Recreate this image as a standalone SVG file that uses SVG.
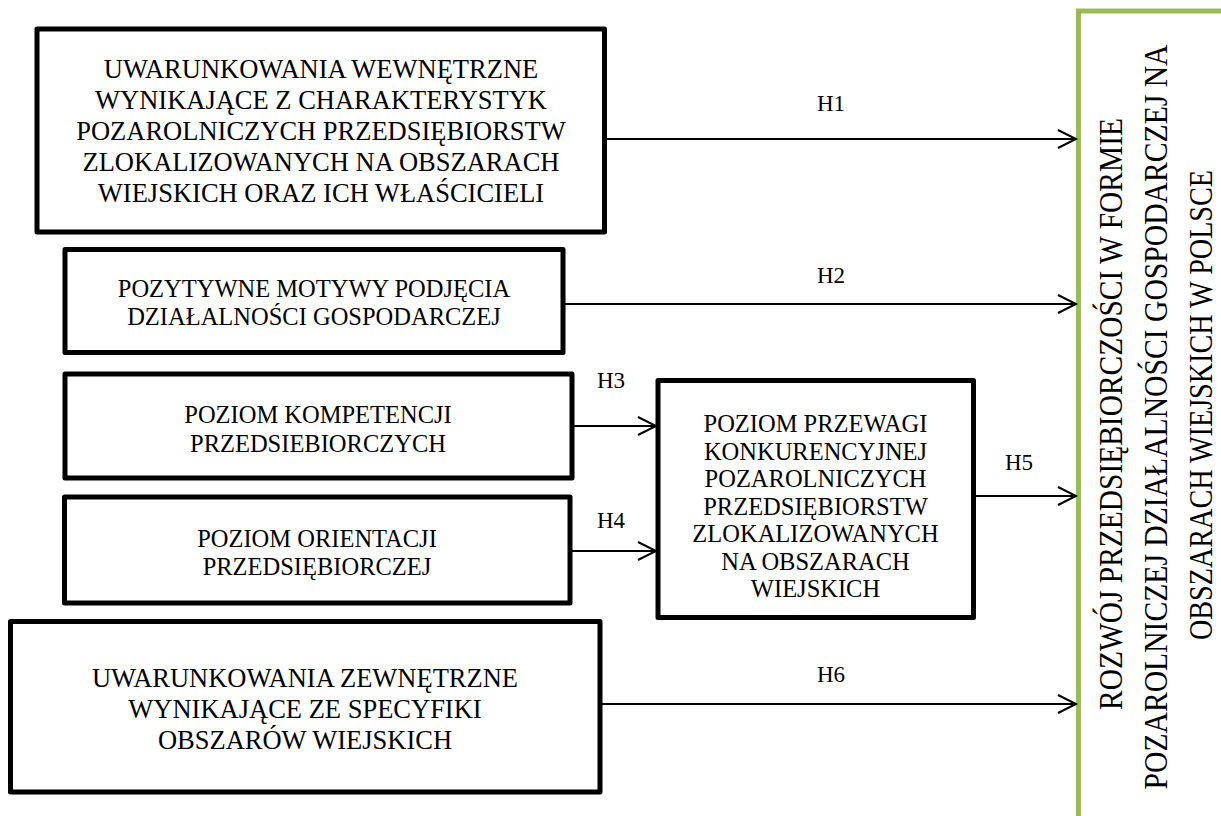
<svg xmlns="http://www.w3.org/2000/svg" width="1221" height="816" viewBox="0 0 1221 816">
<style>
.box{fill:#fff;stroke:#000;stroke-width:5;stroke-linejoin:round}
.t{font-family:"Liberation Serif","Times New Roman",serif;fill:#000;text-anchor:middle}
.big{font-size:26.5px}
.mid{font-size:24.5px}
.lab{font-size:23px}
.vt{font-size:34px}
.c{stroke:#000;stroke-width:2;fill:none;marker-end:url(#ah)}
</style>
<defs>
<marker id="ah" markerUnits="userSpaceOnUse" markerWidth="22" markerHeight="22" refX="19" refY="10" orient="auto" viewBox="0 0 22 20">
<path d="M1,1 L19,10 L1,19" fill="none" stroke="#000" stroke-width="2"/>
</marker>
</defs>
<rect width="1221" height="816" fill="#fff"/>

<g id="target">
<rect x="1078.5" y="11" width="200" height="900" fill="#fff" stroke="#9BBB59" stroke-width="5"/>
<text class="t vt" transform="translate(1122,414) rotate(-90)" textLength="592" lengthAdjust="spacingAndGlyphs">ROZWÓJ PRZEDSIĘBIORCZOŚCI W FORMIE</text>
<text class="t vt" transform="translate(1167,417) rotate(-90)" textLength="745" lengthAdjust="spacingAndGlyphs">POZAROLNICZEJ DZIAŁALNOŚCI GOSPODARCZEJ NA</text>
<text class="t vt" transform="translate(1212,405) rotate(-90)" textLength="470" lengthAdjust="spacingAndGlyphs">OBSZARACH WIEJSKICH W POLSCE</text>
</g>

<g id="connectors">
<line class="c" x1="605" y1="139" x2="1076" y2="139"/>
<line class="c" x1="563" y1="304" x2="1076" y2="304"/>
<line class="c" x1="572" y1="426" x2="656" y2="426"/>
<line class="c" x1="570" y1="551" x2="656" y2="551"/>
<line class="c" x1="974" y1="496" x2="1076" y2="496"/>
<line class="c" x1="600" y1="704" x2="1076" y2="704"/>
<text class="t lab" x="831" y="111">H1</text>
<text class="t lab" x="831" y="283">H2</text>
<text class="t lab" x="611" y="388">H3</text>
<text class="t lab" x="611" y="528">H4</text>
<text class="t lab" x="1019" y="470">H5</text>
<text class="t lab" x="831" y="682">H6</text>
</g>

<g id="n1">
<rect class="box" x="37" y="29" width="567.5" height="203"/>
<text class="t big" x="321"><tspan x="321" y="78">UWARUNKOWANIA WEWNĘTRZNE</tspan><tspan x="321" y="109">WYNIKAJĄCE Z CHARAKTERYSTYK</tspan><tspan x="321" y="140">POZAROLNICZYCH PRZEDSIĘBIORSTW</tspan><tspan x="321" y="171">ZLOKALIZOWANYCH NA OBSZARACH</tspan><tspan x="321" y="202">WIEJSKICH ORAZ ICH WŁAŚCICIELI</tspan></text>
</g>

<g id="n2">
<rect class="box" x="65" y="249.5" width="498" height="103"/>
<text class="t mid"><tspan x="314" y="297">POZYTYWNE MOTYWY PODJĘCIA</tspan><tspan x="314" y="325">DZIAŁALNOŚCI GOSPODARCZEJ</tspan></text>
</g>

<g id="n3">
<rect class="box" x="65" y="374" width="507" height="104"/>
<text class="t mid"><tspan x="318" y="423">POZIOM KOMPETENCJI</tspan><tspan x="318" y="452">PRZEDSIEBIORCZYCH</tspan></text>
</g>

<g id="n4">
<rect class="box" x="64.5" y="497" width="505.5" height="106"/>
<text class="t mid"><tspan x="317" y="547">POZIOM ORIENTACJI</tspan><tspan x="317" y="575">PRZEDSIĘBIORCZEJ</tspan></text>
</g>

<g id="n5">
<rect class="box" x="658" y="380.5" width="315.5" height="237"/>
<text class="t mid"><tspan x="815.5" y="432">POZIOM PRZEWAGI</tspan><tspan x="815.5" y="459.5">KONKURENCYJNEJ</tspan><tspan x="815.5" y="487">POZAROLNICZYCH</tspan><tspan x="815.5" y="514.5">PRZEDSIĘBIORSTW</tspan><tspan x="815.5" y="542">ZLOKALIZOWANYCH</tspan><tspan x="815.5" y="569.5">NA OBSZARACH</tspan><tspan x="815.5" y="597">WIEJSKICH</tspan></text>
</g>

<g id="n6">
<rect class="box" x="10.5" y="621.5" width="589.5" height="170.5"/>
<text class="t big"><tspan x="305" y="687">UWARUNKOWANIA ZEWNĘTRZNE</tspan><tspan x="305" y="718">WYNIKAJĄCE ZE SPECYFIKI</tspan><tspan x="305" y="749">OBSZARÓW WIEJSKICH</tspan></text>
</g>
</svg>
